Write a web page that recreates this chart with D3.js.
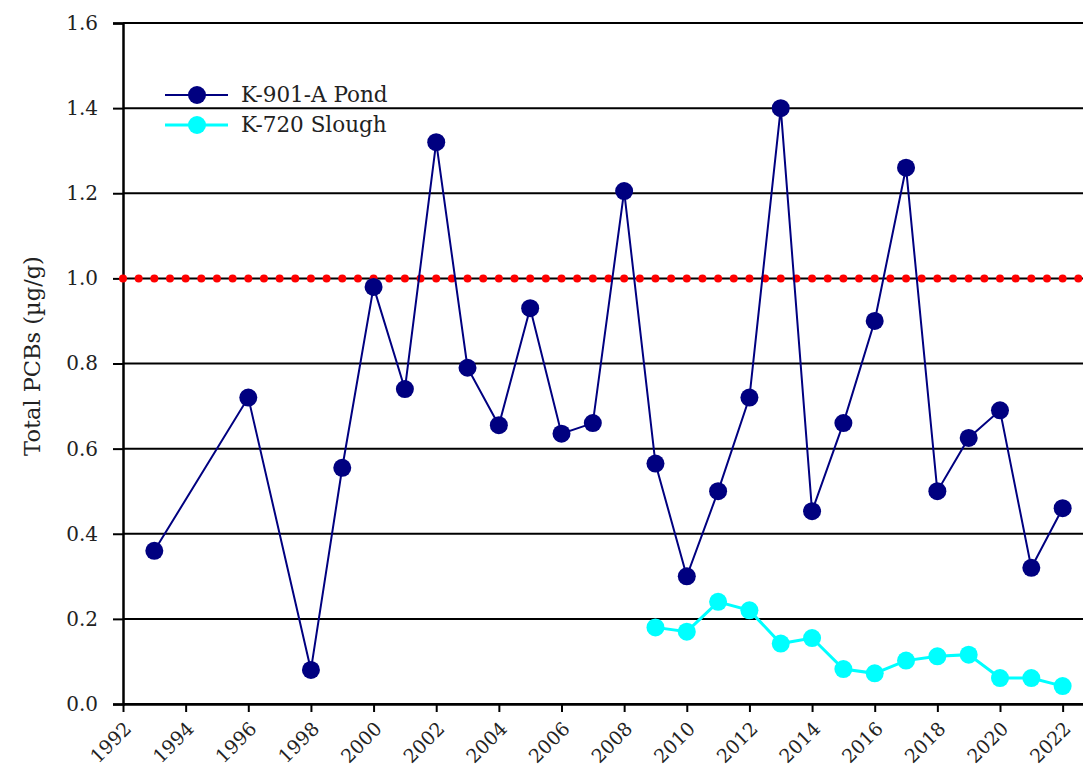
<!DOCTYPE html>
<html>
<head>
<meta charset="utf-8">
<script src="https://cdn.jsdelivr.net/npm/d3@7"></script>
<style>
  body { margin: 0; background: #fff; }
  text { font-family: "DejaVu Serif", "Liberation Serif", serif; }
</style>
</head>
<body>
<div id="chart"></div>
<script>
const pondYears = [1993, 1996, 1998, 1999, 2000, 2001, 2002, 2003, 2004, 2005, 2006, 2007, 2008,
  2009, 2010, 2011, 2012, 2013, 2014, 2015, 2016, 2017, 2018, 2019, 2020, 2021, 2022];
const pondValues = [0.36, 0.72, 0.08, 0.555, 0.98, 0.74, 1.32, 0.79, 0.655, 0.93, 0.635, 0.66, 1.205,
  0.565, 0.30, 0.50, 0.72, 1.40, 0.453, 0.66, 0.90, 1.26, 0.50, 0.625, 0.69, 0.32, 0.46];
const sloughYears = [2009, 2010, 2011, 2012, 2013, 2014, 2015, 2016, 2017, 2018, 2019, 2020, 2021, 2022];
const sloughValues = [0.18, 0.17, 0.24, 0.22, 0.142, 0.155, 0.082, 0.072, 0.102, 0.112, 0.116, 0.061, 0.061, 0.042];
const limitValue = 1.0;
const yTicks = [0, 0.2, 0.4, 0.6, 0.8, 1.0, 1.2, 1.4, 1.6];
const xTicks = d3.range(1992, 2023, 2);
const legendNames = ["K-901-A Pond", "K-720 Slough"];

const width = 1083;
const height = 770;
const margin = { top: 23, right: 0, bottom: 66, left: 123 };

const svg = d3.select("#chart")
  .append("svg")
  .attr("width", width)
  .attr("height", height);

const x = d3.scaleLinear()
  .domain([1992, 2022.65])
  .range([margin.left, width - margin.right]);

const y = d3.scaleLinear()
  .domain([0, 1.6])
  .range([height - margin.bottom, margin.top]);

// horizontal grid lines
svg.append("g")
  .selectAll("line")
  .data(yTicks)
  .join("line")
  .attr("x1", margin.left)
  .attr("x2", width)
  .attr("y1", (d) => y(d))
  .attr("y2", (d) => y(d))
  .attr("stroke", "#000")
  .attr("stroke-width", 2);

// y axis
const yAxis = svg.append("g")
  .attr("transform", `translate(${margin.left},0)`)
  .call(d3.axisLeft(y).tickValues(yTicks).tickFormat(d3.format(".1f")).tickSize(10).tickPadding(15));
yAxis.select(".domain").attr("stroke-width", 2.5);
yAxis.selectAll(".tick line").attr("stroke-width", 2);
yAxis.selectAll("text")
  .attr("font-size", 20)
  .attr("fill", "#222");

// x axis
const xAxis = svg.append("g")
  .attr("transform", `translate(0,${y(0)})`)
  .call(d3.axisBottom(x).tickValues(xTicks).tickFormat(d3.format("d")).tickSize(8).tickSizeOuter(0));
xAxis.select(".domain").attr("stroke-width", 2.5);
xAxis.selectAll(".tick line").attr("stroke-width", 2);
xAxis.selectAll("text")
  .attr("font-size", 19)
  .attr("fill", "#222")
  .attr("text-anchor", "end")
  .attr("x", 0)
  .attr("y", 0)
  .attr("dy", 0)
  .attr("transform", "translate(9,26) rotate(-45)");

// y axis title
svg.append("text")
  .attr("transform", `translate(40,356) rotate(-90)`)
  .attr("text-anchor", "middle")
  .attr("font-size", 22.5)
  .attr("fill", "#222")
  .text("Total PCBs (µg/g)");

// red limit markers every half year
const limitYears = d3.range(1992, 2022.6, 0.5);
svg.append("g")
  .selectAll("circle")
  .data(limitYears)
  .join("circle")
  .attr("cx", (d) => x(d))
  .attr("cy", y(limitValue))
  .attr("r", 4)
  .attr("fill", "#ff0000");

const line = d3.line()
  .x((d) => x(d[0]))
  .y((d) => y(d[1]));

const pond = pondYears.map((yr, i) => [yr, pondValues[i]]);
const slough = sloughYears.map((yr, i) => [yr, sloughValues[i]]);

svg.append("path")
  .datum(slough)
  .attr("d", line)
  .attr("fill", "none")
  .attr("stroke", "#00ffff")
  .attr("stroke-width", 3);
svg.append("g")
  .selectAll("circle")
  .data(slough)
  .join("circle")
  .attr("cx", (d) => x(d[0]))
  .attr("cy", (d) => y(d[1]))
  .attr("r", 9)
  .attr("fill", "#00ffff");

svg.append("path")
  .datum(pond)
  .attr("d", line)
  .attr("fill", "none")
  .attr("stroke", "#000080")
  .attr("stroke-width", 2);
svg.append("g")
  .selectAll("circle")
  .data(pond)
  .join("circle")
  .attr("cx", (d) => x(d[0]))
  .attr("cy", (d) => y(d[1]))
  .attr("r", 9)
  .attr("fill", "#000080");

// legend
const legendColors = ["#000080", "#00ffff"];
const legend = svg.append("g").attr("transform", "translate(165,95)");
legendNames.forEach((name, i) => {
  const g = legend.append("g").attr("transform", `translate(0,${i * 30})`);
  g.append("line")
    .attr("x1", 0).attr("x2", 63)
    .attr("stroke", legendColors[i])
    .attr("stroke-width", i === 0 ? 2 : 3);
  g.append("circle")
    .attr("cx", 32).attr("r", 9)
    .attr("fill", legendColors[i]);
  g.append("text")
    .attr("x", 76).attr("y", 7)
    .attr("font-size", 21.5)
    .attr("fill", "#222")
    .text(name);
});
</script>
</body>
</html>
